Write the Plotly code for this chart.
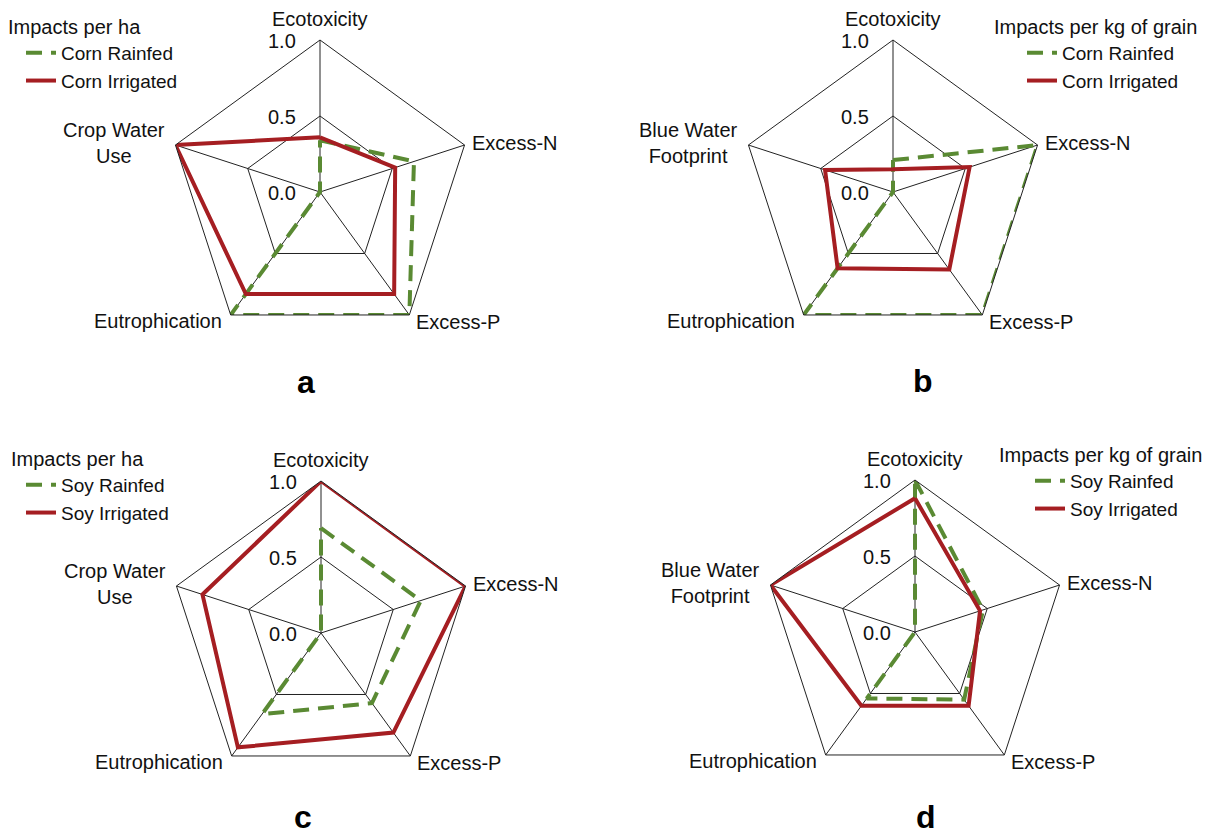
import math
import plotly.graph_objects as go

W, H = 1212, 838

# ---------------- data ----------------
categories_ha = ["Ecotoxicity", "Excess-N", "Excess-P", "Eutrophication", "Crop Water Use"]
categories_kg = ["Ecotoxicity", "Excess-N", "Excess-P", "Eutrophication", "Blue Water Footprint"]
label_ha = ["Ecotoxicity", "Excess-N", "Excess-P", "Eutrophication", "Crop Water<br>Use"]
label_kg = ["Ecotoxicity", "Excess-N", "Excess-P", "Eutrophication", "Blue Water<br>Footprint"]

corn_ha_rainfed = [0.34, 0.65, 1.0, 1.0, 0.0]
corn_ha_irrigated = [0.36, 0.52, 0.83, 0.83, 1.0]
corn_kg_rainfed = [0.21, 1.0, 1.0, 1.0, 0.0]
corn_kg_irrigated = [0.15, 0.53, 0.63, 0.62, 0.47]
soy_ha_rainfed = [0.69, 0.69, 0.57, 0.66, 0.0]
soy_ha_irrigated = [1.0, 1.0, 0.81, 0.93, 0.82]
soy_kg_rainfed = [1.0, 0.47, 0.55, 0.54, 0.0]
soy_kg_irrigated = [0.88, 0.45, 0.60, 0.60, 1.0]

radial_tickvals = [0.0, 0.5, 1.0]
radial_ticktext = ["0.0", "0.5", "1.0"]

legend_titles = ["Impacts per ha", "Impacts per kg of grain", "Impacts per ha", "Impacts per kg of grain"]
panel_letters = ["a", "b", "c", "d"]

# ---------------- style ----------------
FONT = "Liberation Sans, Arial, sans-serif"
RED = "#A51E22"
GREEN = "#5A8A33"
TXT = "#111111"
R = 152
centers = [(320, 192), (893, 192), (321, 633), (915, 632)]
legend_pos = [(6, 8), (992, 8), (9, 440), (997, 436)]
legend_indent = [15, 30, 12, 33]
letter_pos = [(306, 382), (923, 381), (303, 837), (926, 837)]
letter_anchor = ["middle", "middle", "bottom", "bottom"]

panels = [
    (categories_ha, label_ha, "Corn", corn_ha_rainfed, corn_ha_irrigated),
    (categories_kg, label_kg, "Corn", corn_kg_rainfed, corn_kg_irrigated),
    (categories_ha, label_ha, "Soy", soy_ha_rainfed, soy_ha_irrigated),
    (categories_kg, label_kg, "Soy", soy_kg_rainfed, soy_kg_irrigated),
]

fig = go.Figure()
annotations = []
layout_extra = {}

# angle (deg, math convention) of each spoke, and label offsets (dx, dy px, xanchor, yanchor)
angles = [90, 18, -54, -126, 162]
label_off = [
    (0, -8, "center", "bottom"),
    (5, -2, "left", "middle"),
    (5, 7, "left", "middle"),
    (-7, 6, "right", "middle"),
    (-8, -2, "right", "middle"),
]

for i, (cats, labels, crop, rain, irr) in enumerate(panels):
    pid = "" if i == 0 else str(i + 1)
    polar_name = "polar" + pid
    legend_name = "legend" + pid
    cx, cy = centers[i]
    theta = cats + [cats[0]]
    fig.add_trace(go.Scatterpolar(
        r=rain + [rain[0]], theta=theta, mode="lines",
        name=f"{crop} Rainfed", subplot=polar_name, legend=legend_name,
        line=dict(color=GREEN, width=4, dash="16px,9px"),
    ))
    fig.add_trace(go.Scatterpolar(
        r=irr + [irr[0]], theta=theta, mode="lines",
        name=f"{crop} Irrigated", subplot=polar_name, legend=legend_name,
        line=dict(color=RED, width=4),
    ))
    layout_extra[polar_name] = dict(
        domain=dict(x=[(cx - R) / W, (cx + R) / W], y=[1 - (cy + R) / H, 1 - (cy - R) / H]),
        gridshape="linear",
        bgcolor="white",
        radialaxis=dict(
            range=[0, 1], tickvals=radial_tickvals,
            angle=90, showticklabels=False, showline=False, ticks="",
            gridcolor="#222222", gridwidth=1,
        ),
        angularaxis=dict(
            rotation=90, direction="clockwise", categoryarray=cats, categoryorder="array",
            showticklabels=False, ticks="", showline=True, linecolor="#222222", linewidth=1,
            gridcolor="#222222", gridwidth=1,
        ),
    )
    lx, ly = legend_pos[i]
    layout_extra[legend_name] = dict(
        x=lx / W, y=1 - ly / H, xanchor="left", yanchor="top",
        bgcolor="rgba(0,0,0,0)",
        indentation=legend_indent[i],
        title=dict(text=legend_titles[i], font=dict(family=FONT, size=20, color=TXT)),
        font=dict(family=FONT, size=19, color=TXT),
        tracegroupgap=0,
    )
    # angular (category) labels around the pentagon
    for k, ang in enumerate(angles):
        vx = cx + R * math.cos(math.radians(ang))
        vy = cy - R * math.sin(math.radians(ang))
        dx, dy, xa, ya = label_off[k]
        annotations.append(dict(
            x=(vx + dx) / W, y=1 - (vy + dy) / H, xref="paper", yref="paper",
            text=labels[k], showarrow=False, xanchor=xa, yanchor=ya, align="center",
            font=dict(family=FONT, size=20, color=TXT),
        ))
    # radial tick labels, left of the vertical axis
    for tv, tt in zip(radial_tickvals, radial_ticktext):
        annotations.append(dict(
            x=(cx - 22) / W, y=1 - (cy - R * tv + 1) / H, xref="paper", yref="paper",
            text=tt, showarrow=False, xanchor="right", yanchor="middle",
            font=dict(family=FONT, size=20, color=TXT),
        ))
    px_, py_ = letter_pos[i]
    annotations.append(dict(
        x=px_ / W, y=1 - py_ / H, xref="paper", yref="paper",
        text=f"<b>{panel_letters[i]}</b>", showarrow=False, xanchor="center",
        yanchor=letter_anchor[i],
        font=dict(family=FONT, size=32, color="#000000"),
    ))

fig.update_layout(
    width=W, height=H,
    margin=dict(l=0, r=0, t=0, b=0),
    paper_bgcolor="white",
    plot_bgcolor="white",
    font=dict(family=FONT, color=TXT),
    annotations=annotations,
    **layout_extra,
)

fig.write_html("out.html", config={"displayModeBar": False},
               post_script="document.body.style.margin='0';document.body.style.overflow='hidden';")
